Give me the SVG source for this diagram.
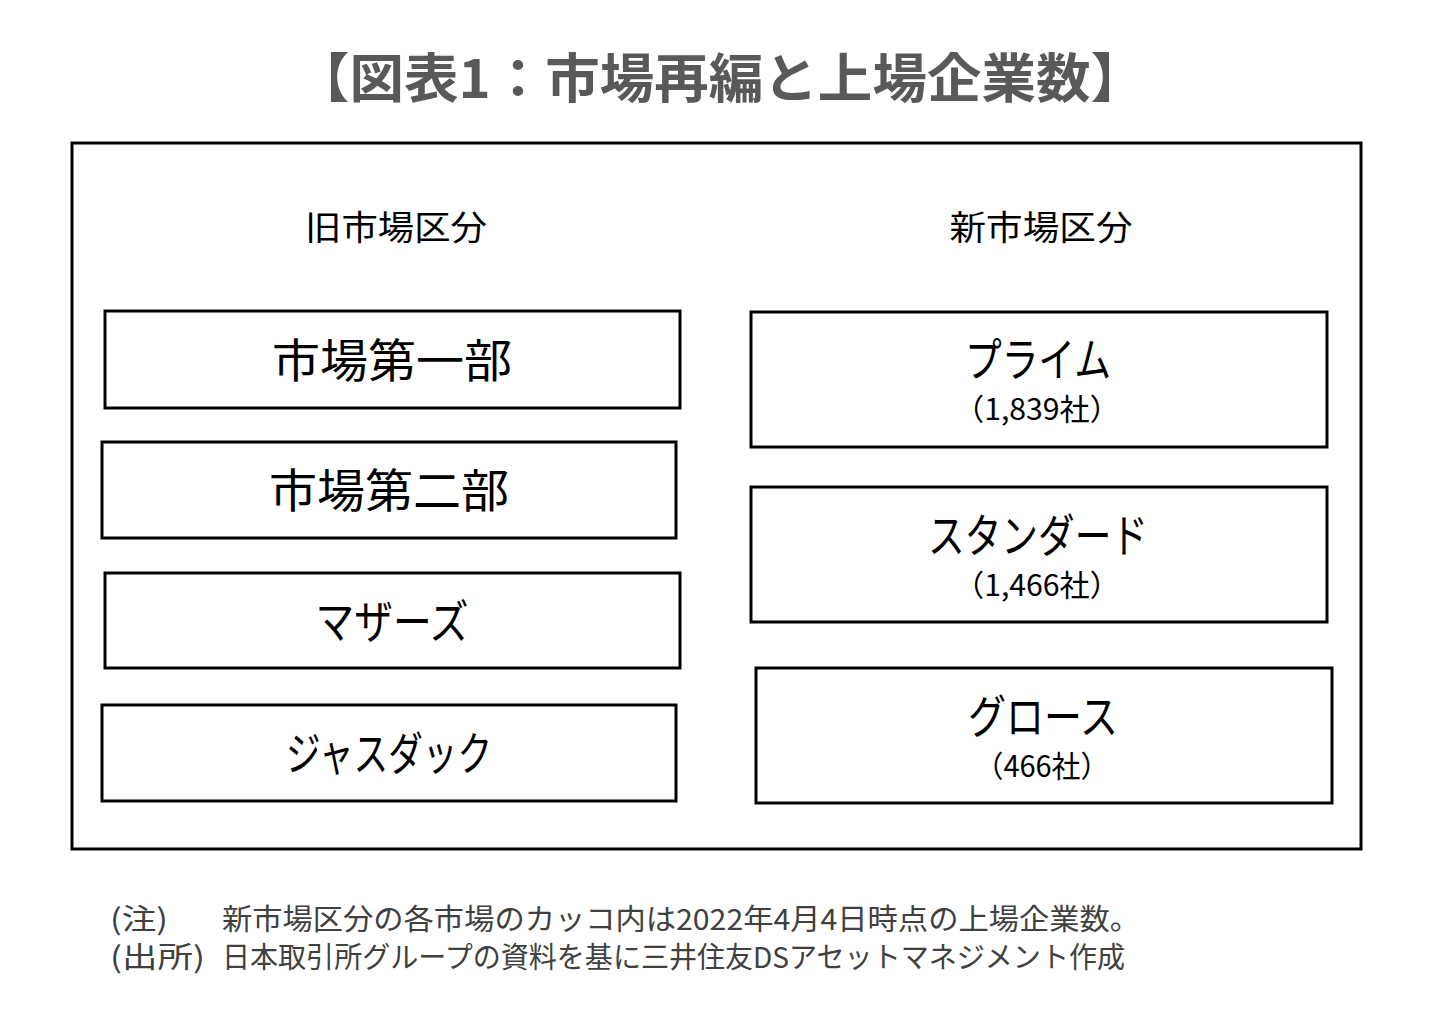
<svg xmlns="http://www.w3.org/2000/svg" width="1450" height="1022" viewBox="0 0 1450 1022">
<style>
.box{fill:#fff;stroke:#000;stroke-width:3}
.t{font-family:"Noto Sans CJK JP","Noto Sans",sans-serif;fill:#000;text-anchor:middle}
.big{font-size:46px}
.sub{font-size:30px}
.hdr{font-size:34px}
.note{font-family:"Noto Sans CJK JP","Noto Sans",sans-serif;font-size:29px;fill:#404040}
</style>
<rect width="1450" height="1022" fill="#fff"/>
<text x="720" y="98" font-family="Noto Sans CJK JP,sans-serif" font-size="53" font-weight="bold" fill="#595959" text-anchor="middle" textLength="850" lengthAdjust="spacingAndGlyphs">【図表1：市場再編と上場企業数】</text>
<rect id="frame" x="72" y="143" width="1289" height="706" fill="none" stroke="#000" stroke-width="3"/>
<g id="old-header"><text class="t hdr" x="396" y="240" textLength="182" lengthAdjust="spacingAndGlyphs">旧市場区分</text></g>
<g id="new-header"><text class="t hdr" x="1041" y="240" textLength="183" lengthAdjust="spacingAndGlyphs">新市場区分</text></g>
<g id="n1"><rect class="box" x="105" y="311" width="575" height="97"/><text class="t big" x="392" y="377" textLength="240" lengthAdjust="spacingAndGlyphs">市場第一部</text></g>
<g id="n2"><rect class="box" x="102" y="442" width="574" height="96"/><text class="t big" x="389" y="507" textLength="240" lengthAdjust="spacingAndGlyphs">市場第二部</text></g>
<g id="n3"><rect class="box" x="105" y="573" width="575" height="95"/><text class="t big" x="392" y="638" textLength="153" lengthAdjust="spacingAndGlyphs">マザーズ</text></g>
<g id="n4"><rect class="box" x="102" y="705" width="574" height="96"/><text class="t big" x="389" y="770" textLength="206" lengthAdjust="spacingAndGlyphs">ジャスダック</text></g>
<g id="p1"><rect class="box" x="751" y="312" width="576" height="135"/><text class="t big" x="1038" y="376" textLength="146" lengthAdjust="spacingAndGlyphs">プライム</text><text class="t sub" x="1037" y="420" textLength="166" lengthAdjust="spacingAndGlyphs">（1,839社）</text></g>
<g id="p2"><rect class="box" x="751" y="487" width="576" height="135"/><text class="t big" x="1038" y="552" textLength="220" lengthAdjust="spacingAndGlyphs">スタンダード</text><text class="t sub" x="1037" y="596" textLength="166" lengthAdjust="spacingAndGlyphs">（1,466社）</text></g>
<g id="p3"><rect class="box" x="756" y="668" width="576" height="135"/><text class="t big" x="1043" y="733" textLength="150" lengthAdjust="spacingAndGlyphs">グロース</text><text class="t sub" x="1042" y="777" textLength="135" lengthAdjust="spacingAndGlyphs">（466社）</text></g>
<g id="connectors"></g>
<g id="notes">
<text class="note" x="110" y="930" textLength="58" lengthAdjust="spacingAndGlyphs">(注)</text>
<text class="note" x="222" y="930" textLength="918" lengthAdjust="spacingAndGlyphs">新市場区分の各市場のカッコ内は2022年4月4日時点の上場企業数。</text>
<text class="note" x="110" y="968" textLength="95" lengthAdjust="spacingAndGlyphs">(出所)</text>
<text class="note" x="222" y="968" textLength="903" lengthAdjust="spacingAndGlyphs">日本取引所グループの資料を基に三井住友DSアセットマネジメント作成</text>
</g>
</svg>
